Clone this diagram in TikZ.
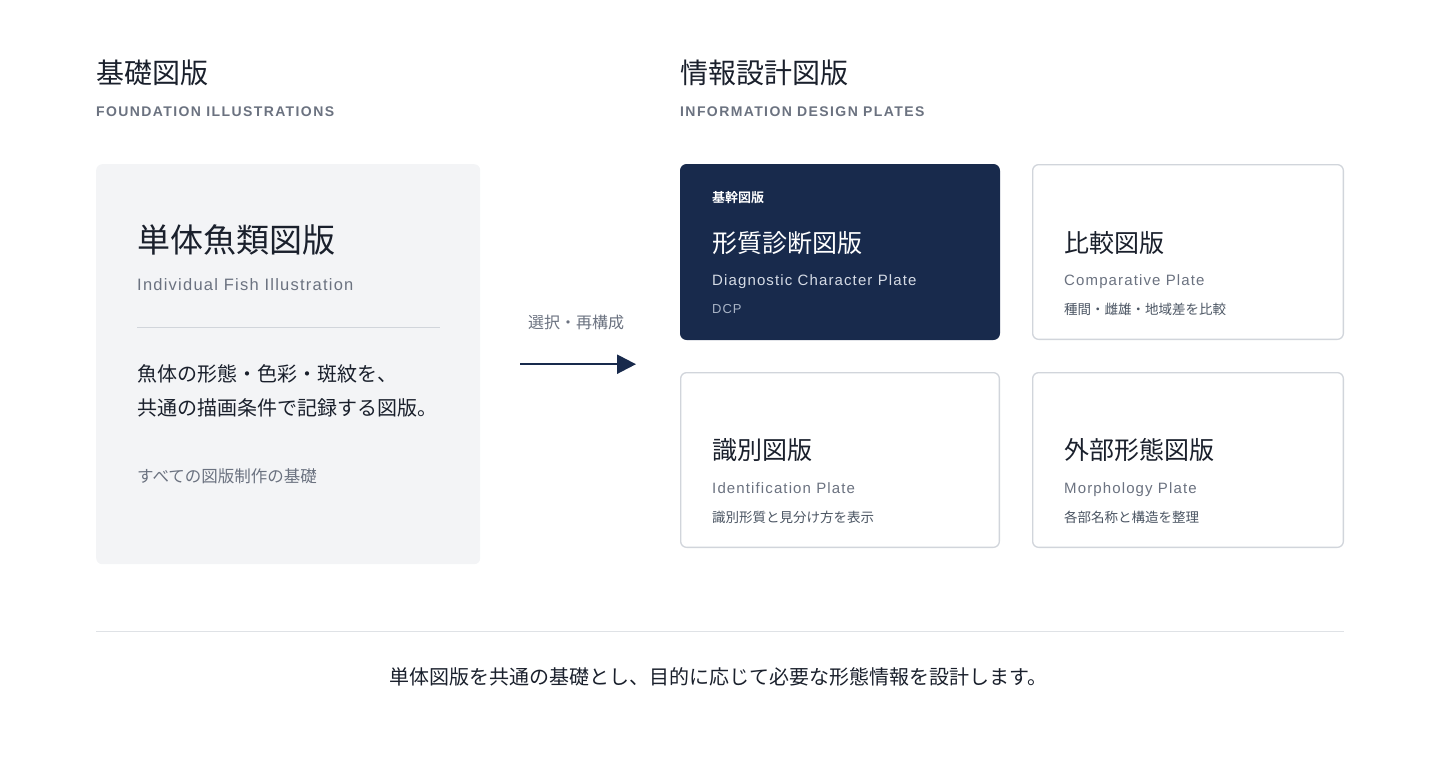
\documentclass[tikz,border=0pt]{standalone}
\usepackage{fontspec}
\setmainfont{Noto Sans CJK JP}[BoldFont={Noto Sans CJK JP Bold}]
\newfontfamily\latin[LetterSpace=7.5]{Liberation Sans}
\newfontfamily\caps[LetterSpace=10]{Liberation Sans Bold}
\usetikzlibrary{arrows.meta}
\definecolor{navy}{HTML}{182A4C}
\definecolor{ink}{HTML}{1A202C}
\definecolor{muted}{HTML}{6B7280}
\definecolor{soft}{HTML}{4B5563}
\definecolor{rule}{HTML}{D1D5DB}
\definecolor{paper}{HTML}{F3F4F6}
\definecolor{pale}{HTML}{D5DBE5}
\definecolor{dim}{HTML}{A9B4C6}
\newcommand{\fsz}[1]{\fontsize{#1}{#1}\selectfont}
\tikzstyle{plate} = [rectangle, draw=rule, line width=1.3, fill=white,
    rounded corners=6, minimum height=174.7, anchor=north west, inner sep=0]
\tikzstyle{groundbox} = [rectangle, fill=paper, rounded corners=6,
    minimum width=384, minimum height=400, anchor=north west, inner sep=0]
\tikzstyle{txt} = [anchor=base west, inner sep=0]
\tikzstyle{line} = [draw=navy, line width=2.4, -{Triangle[length=19,width=19]}]

\begin{document}
\begin{tikzpicture}[x=1pt, y=-1pt]
    \useasboundingbox (0,0) rectangle (1440,768);
    % headings
    \node [txt, font=\fsz{28}, text=ink] at (96,83) (fhead) {基礎図版};
    \node [txt, font=\caps\fsz{14}, text=muted] at (96,116) (fsub) {FOUNDATION ILLUSTRATIONS};
    \node [txt, font=\fsz{28}, text=ink] at (680,83) (ihead) {情報設計図版};
    \node [txt, font=\caps\fsz{14}, text=muted] at (680,116) (isub) {INFORMATION DESIGN PLATES};
    % foundation card
    \node [groundbox] at (96,164) (found) {};
    \node [txt, font=\fsz{33}, text=ink] at (137,252) (ftitle) {単体魚類図版};
    \node [txt, font=\latin\fsz{16.5}, text=muted] at (137,290) (fen) {Individual Fish Illustration};
    \draw [rule, line width=1.3] (137,327.5) -- (440,327.5);
    \node [txt, font=\fsz{20}, text=ink] at (137,381) (desca) {魚体の形態・色彩・斑紋を、};
    \node [txt, font=\fsz{20}, text=ink] at (137,415) (descb) {共通の描画条件で記録する図版。};
    \node [txt, font=\fsz{16.5}, text=muted] at (137,482) (fnote) {すべての図版制作の基礎};
    % plates
    \node [plate, draw=navy, fill=navy, minimum width=318.7] at (680,164) (dcp) {};
    \node [plate, minimum width=310.7] at (1032,164) (comp) {};
    \node [plate, minimum width=318.7] at (680,372) (ident) {};
    \node [plate, minimum width=310.7] at (1032,372) (morph) {};
    \node [txt, font=\bfseries\fsz{13}, text=white] at (712,202) (dcptag) {基幹図版};
    \node [txt, font=\fsz{25}, text=white] at (712,252) (dcptitle) {形質診断図版};
    \node [txt, font=\latin\fsz{15}, text=pale] at (712,285) (dcpen) {Diagnostic Character Plate};
    \node [txt, font=\latin\fsz{13}, text=dim] at (712,313) (dcpabbr) {DCP};
    \node [txt, font=\fsz{25}, text=ink] at (1064,252) (comptitle) {比較図版};
    \node [txt, font=\latin\fsz{15}, text=muted] at (1064,285) (compen) {Comparative Plate};
    \node [txt, font=\fsz{13.5}, text=soft] at (1064,314) (compnote) {種間・雌雄・地域差を比較};
    \node [txt, font=\fsz{25}, text=ink] at (712,459) (identtitle) {識別図版};
    \node [txt, font=\latin\fsz{15}, text=muted] at (712,493) (identen) {Identification Plate};
    \node [txt, font=\fsz{13.5}, text=soft] at (712,522) (identnote) {識別形質と見分け方を表示};
    \node [txt, font=\fsz{25}, text=ink] at (1064,459) (morphtitle) {外部形態図版};
    \node [txt, font=\latin\fsz{15}, text=muted] at (1064,493) (morphen) {Morphology Plate};
    \node [txt, font=\fsz{13.5}, text=soft] at (1064,522) (morphnote) {各部名称と構造を整理};
    % transition
    \node [anchor=base, inner sep=0, font=\fsz{16}, text=muted] at (576,328) (pick) {選択・再構成};
    \path [line, shorten <=40, shorten >=44] (found.east) -- (found.east -| dcp.west);
    % footer
    \draw [rule!70, line width=1.3] (96,631.5) -- (1344,631.5);
    \node [anchor=base, inner sep=0, font=\fsz{20}, text=ink] at (718,684) (summary) {単体図版を共通の基礎とし、目的に応じて必要な形態情報を設計します。};
\end{tikzpicture}
\end{document}
